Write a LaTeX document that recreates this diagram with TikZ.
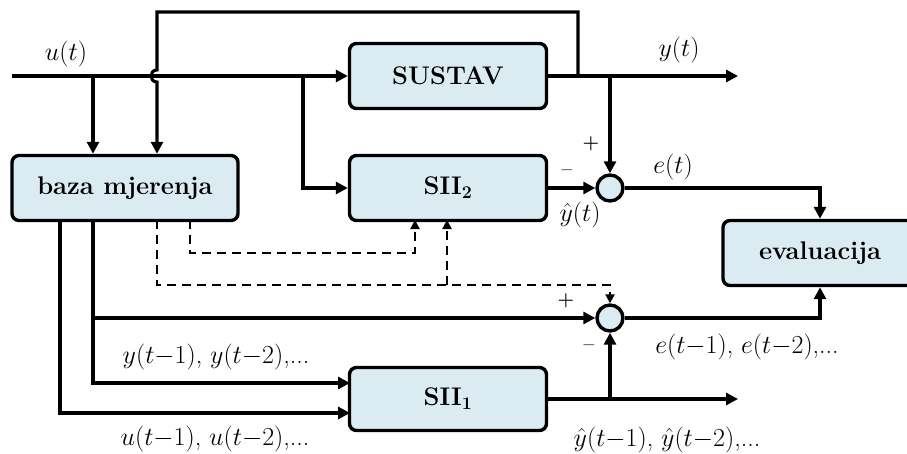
\RequirePackage{fix-cm}
\documentclass[tikz,border=0pt]{standalone}
\usetikzlibrary{arrows.meta,calc}
\definecolor{boxfill}{RGB}{218,236,242}
\begin{document}
\begin{tikzpicture}[x=1pt,y=-1pt,
  blk/.style={draw, line width=3.4pt, rounded corners=7pt, fill=boxfill,
    minimum width=197pt, minimum height=65pt, inner sep=0pt,
    font=\fontsize{25.5}{30}\selectfont\bfseries},
  sumc/.style={draw, circle, line width=3.4pt, fill=boxfill, minimum size=26pt, inner sep=0pt},
  sig/.style={line width=3.1pt, -{Triangle[length=12pt,width=12pt]}},
  dsig/.style={line width=2.2pt, dash pattern=on 9pt off 6pt, -{Triangle[length=9pt,width=9pt]}},
  lbl/.style={font=\fontsize{26}{30}\selectfont, inner sep=0pt},
  sgn/.style={font=\fontsize{19}{22}\selectfont\bfseries, inner sep=0pt}]
\useasboundingbox (0,0) rectangle (907,453);

% blocks
\node[blk] (sus) at (448,76) {SUSTAV};
\node[blk] (sii2) at (448,188) {SII\textsubscript{2}};
\node[blk, minimum width=226pt] (baza) at (125,188) {baza mjerenja};
\node[blk, minimum width=194pt] (eval) at (820,253) {evaluacija};
\node[blk, minimum height=63pt] (sii1) at (448,399) {SII\textsubscript{1}};
\node[sumc] (s1) at (610,188) {};
\node[sumc] (s2) at (610,318) {};

% coordinates
\coordinate (in) at (12,76);
\coordinate (yout) at (738,76);
\coordinate (yhout) at (738,399);
\coordinate (j1) at (93,76);
\coordinate (j2) at (303,76);
\coordinate (j3) at (578,76);
\coordinate (j4) at (610,76);
\coordinate (hx) at (157,12);
\coordinate (d1) at (190,220);
\coordinate (d1e) at (415,220);
\coordinate (d2) at (157,220);
\coordinate (d2j) at (447,285);
\coordinate (d2e) at (447,220);
\coordinate (b3) at (93,220);
\coordinate (b3j) at (93,318);
\coordinate (sii1a) at (350,383);
\coordinate (b4) at (60,220);
\coordinate (sii1b) at (350,413);
\coordinate (j5) at (610,399);

% top part
\draw[sig] (in) -- (sus.west);
\draw[sig] (j1) -- (j1 |- baza.north);
\draw[sig] (j2) |- (sii2.west);
\draw[sig] (sus.east) -- (yout);
\draw[sig] (j3) -- (j3 |- hx) -- (hx) -- (157,70)
  .. controls (149,70) and (149,82) .. (157,82) -- (hx |- baza.north);
\draw[sig] (j4) -- (s1.north);
\draw[sig] (sii2.east) -- (s1.west);
\draw[sig] (s1.east) -| (eval.north);

% dashed
\draw[dsig] (d1) -- (190,253) -| (d1e);
\draw[dsig] (d2) -- (157,285) -| (s2.north);
\draw[dsig] (d2j) -- (d2e);

% bottom part
\draw[sig] (b3) |- (sii1a);
\draw[sig] (b3j) -- (s2.west);
\draw[sig] (b4) |- (sii1b);
\draw[sig] (sii1.east) -- (yhout);
\draw[sig] (j5) -- (s2.south);
\draw[sig] (s2.east) -| (eval.south);

% labels
\node[lbl] (lu) at (66,54) {$u(t)$};
\node[lbl] (ly) at (679,50) {$y(t)$};
\node[sgn] (p1) at (591,144) {+};
\node[sgn] (m1) at (567,173) {--};
\node[lbl] (le) at (673,167) {$e(t)$};
\node[lbl] (lyh) at (580,215) {$\hat{y}(t)$};
\node[sgn] (p2) at (566,301) {+};
\node[sgn] (m2) at (589,348) {--};
\node[lbl] (le1) at (747,347) {$e(t{-}1)$, $e(t{-}2)$,...};
\node[lbl] (ly1) at (216,357) {$y(t{-}1)$, $y(t{-}2)$,...};
\node[lbl] (lu1) at (215,439) {$u(t{-}1)$, $u(t{-}2)$,...};
\node[lbl] (lyh1) at (667,440) {$\hat{y}(t{-}1)$, $\hat{y}(t{-}2)$,...};
\end{tikzpicture}
\end{document}
